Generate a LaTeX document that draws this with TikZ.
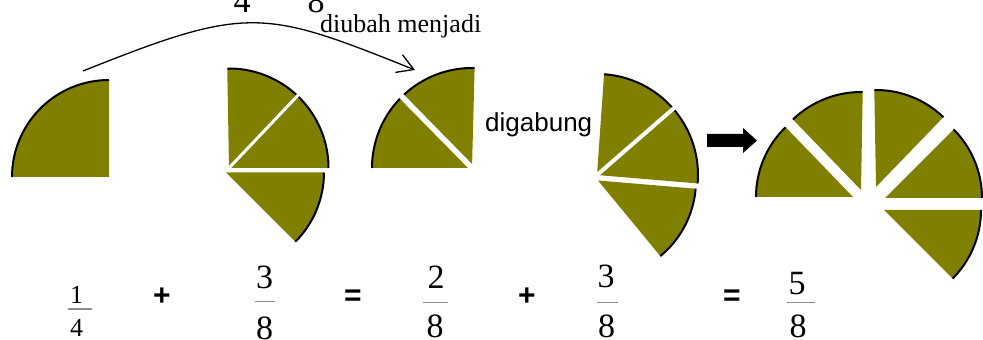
\documentclass[tikz,border=0pt]{standalone}
\usepackage{fontspec}
\setmainfont{Liberation Serif}
\setsansfont{Liberation Sans}
\usetikzlibrary{arrows.meta}
\definecolor{olivefill}{RGB}{128,128,0}
\definecolor{barcol}{RGB}{140,140,140}
\newcommand\olivesector[5]{%
  \fill[wedge] (#1,#2) -- ++(#4:#3) arc[start angle=#4, end angle=#5, radius=#3] -- cycle;
  \draw[rim] (#1,#2) ++(#4:#3) arc[start angle=#4, end angle=#5, radius=#3];}
\tikzset{
  wedge/.style={fill=olivefill},
  rim/.style={draw=black, line width=2pt},
  gapline/.style={draw=white, line width=#1},
  fracbig/.style={font=\fontsize{34}{38}\selectfont, inner sep=0pt, anchor=base},
  fracsmall/.style={font=\fontsize{26}{30}\selectfont, inner sep=0pt, anchor=base},
  opsym/.style={font=\sffamily\bfseries\fontsize{30}{34}\selectfont, inner sep=0pt, anchor=base},
  fracbar/.style={draw=barcol, line width=1.2pt},
  curvearrow/.style={draw=black, line width=1.3pt, -{Straight Barb[length=16pt,width=19pt,line width=1.3pt]}},
}
\begin{document}
\begin{tikzpicture}[x=1pt,y=1pt]
\useasboundingbox (0,0) rectangle (983,340);
\clip (0,0) rectangle (983,340);
% shape A : 1/4
\olivesector{109}{163}{97}{90}{180}
% shape B : 3/8
\olivesector{229}{172}{99.5}{0}{91}
\draw[gapline=3pt] (229,172) -- ++(46.5:112);
\olivesector{226}{167.5}{98}{-45}{0}
% shape C : 2/8
\olivesector{472}{172}{100}{88.5}{180}
\draw[gapline=5.5pt] (472,172) -- ++(134.5:112);
% shape D : 3/8
\olivesector{597}{165}{101}{-4.8}{86}
\draw[gapline=4pt] (597,165) -- ++(41:112);
\olivesector{598}{159.5}{98}{-50.5}{-4.8}
% shape E : 5/8
\olivesector{853}{143}{97}{134}{180}
\olivesector{861}{150}{98}{89}{134}
\olivesector{876}{153}{97}{46}{91}
\olivesector{885}{142}{97}{0}{45}
\olivesector{884}{130}{97}{-45}{0}
% curved arrow
\coordinate (arrS) at (83,269);
\coordinate (arrE) at (415,270);
\draw[curvearrow] (arrS) .. controls (248,335) and (263,331) .. (arrE);
% block arrow
\fill[black] (707,193) -- (743,193) -- (743,187) -- (757,199.5) -- (743,212) -- (743,206) -- (707,206) -- cycle;
% texts
\node[font=\fontsize{26}{30}\selectfont, inner sep=0pt, anchor=base west] (tdiubah) at (320,307) {diubah menjadi};
\node[fracbig] (cutfour) at (242,327) {4};
\node[fracbig] (cuteight) at (316,327) {8};
\node[font=\sffamily\fontsize{26}{30}\selectfont, inner sep=0pt, anchor=base west] (tgab) at (485,208) {digabung};
% fractions
\node[fracsmall] (n1) at (76.5,36) {1};
\draw[fracbar] (68,31) -- (92,31);
\node[fracsmall] (d1) at (76.5,3) {4};
\node[fracbig] (n2) at (264.5,51.5) {3};
\draw[fracbar] (255,38.3) -- (275,38.3);
\node[fracbig] (d2) at (264.7,0.5) {8};
\node[fracbig] (n3) at (436,51.5) {2};
\draw[fracbar] (423,37.7) -- (448,37.7);
\node[fracbig] (d3) at (435,2) {8};
\node[fracbig] (n4) at (606,52) {3};
\draw[fracbar] (597,37.7) -- (618,37.7);
\node[fracbig] (d4) at (606.7,2) {8};
\node[fracbig] (n5) at (797,45) {5};
\draw[fracbar] (787,37.7) -- (815,37.7);
\node[fracbig] (d5) at (798,2) {8};
% operators
\node[opsym] (op1) at (162,34.7) {+};
\node[opsym] (op2) at (353,34.7) {=};
\node[opsym] (op3) at (527,34.7) {+};
\node[opsym] (op4) at (732,34.7) {=};
\end{tikzpicture}
\end{document}
